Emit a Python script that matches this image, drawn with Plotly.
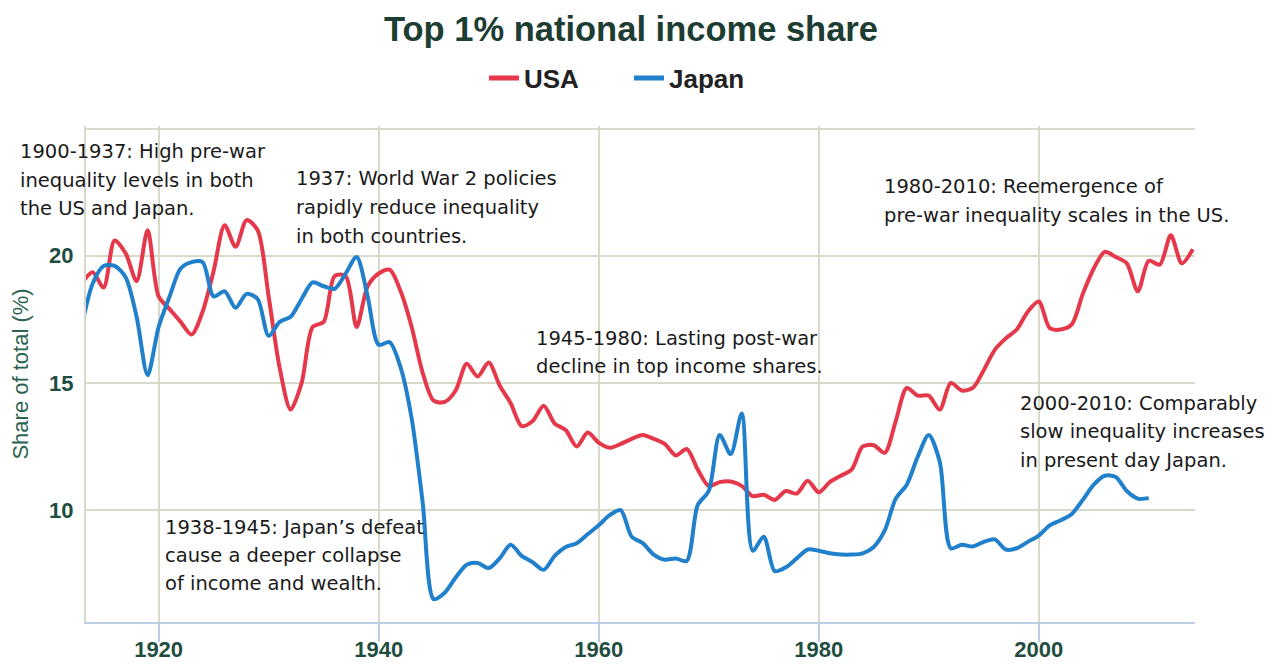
import plotly.graph_objects as go

years_usa = list(range(1913, 2015))
usa = [18.9, 19.35, 18.75, 20.6, 20.1, 19.0, 21.0, 18.4, 17.9, 17.4,
       16.9, 17.8, 19.4, 21.2, 20.35, 21.4, 21.0, 18.4, 15.6, 13.95,
       15.0, 17.2, 17.4, 19.2, 19.2, 17.2, 18.8, 19.3, 19.45, 18.6,
       17.2, 15.4, 14.3, 14.25, 14.7, 15.75, 15.25, 15.8, 14.9, 14.2,
       13.3, 13.5, 14.1, 13.4, 13.15, 12.5, 13.05, 12.65, 12.45, 12.6,
       12.8, 12.95, 12.8, 12.6, 12.15, 12.4, 11.6, 10.95, 11.1, 11.12,
       10.95, 10.55, 10.6, 10.4, 10.75, 10.65, 11.15, 10.7, 11.1, 11.35,
       11.6, 12.5, 12.55, 12.25, 13.5, 14.8, 14.5, 14.5, 13.95, 15.0,
       14.7, 14.8, 15.5, 16.3, 16.75, 17.1, 17.8, 18.2, 17.15, 17.1,
       17.3, 18.5, 19.5, 20.15, 19.95, 19.7, 18.6, 19.8, 19.65, 20.8,
       19.7, 20.25]

years_japan = list(range(1913, 2011))
japan = [17.2, 18.9, 19.6, 19.6, 19.15, 17.6, 15.3, 17.2, 18.4, 19.5,
         19.75, 19.75, 18.4, 18.6, 17.95, 18.5, 18.3, 16.85, 17.4, 17.6,
         18.3, 18.95, 18.8, 18.7, 19.3, 19.95, 18.4, 16.5, 16.6, 15.6,
         13.6, 10.3, 6.5, 6.75, 7.35, 7.85, 7.92, 7.72, 8.1, 8.64,
         8.2, 7.95, 7.65, 8.2, 8.55, 8.7, 9.05, 9.4, 9.8, 10.0,
         8.95, 8.7, 8.25, 8.05, 8.1, 8.0, 10.2, 10.75, 12.95, 12.2,
         13.8, 8.4, 8.95, 7.6, 7.75, 8.1, 8.45, 8.4, 8.3, 8.25,
         8.25, 8.3, 8.55, 9.2, 10.45, 11.0, 12.1, 12.95, 11.9, 8.5,
         8.64, 8.57, 8.75, 8.85, 8.45, 8.5, 8.75, 9.0, 9.4, 9.6,
         9.85, 10.4, 11.0, 11.35, 11.3, 10.75, 10.45, 10.47]

x_ticks = [1920, 1940, 1960, 1980, 2000]
y_ticks = [10, 15, 20, 25]
y_ticktext = ["10", "15", "20", ""]

notes = [
    (18, [152, 180, 208], ["1900-1937: High pre-war", "inequality levels in both", "the US and Japan."]),
    (294, [179, 207.5, 236], ["1937: World War 2 policies", "rapidly reduce inequality", "in both countries."]),
    (534, [338, 366], ["1945-1980: Lasting post-war", "decline in top income shares."]),
    (882, [187, 215.5], ["1980-2010: Reemergence of", "pre-war inequality scales in the US."]),
    (1018, [403, 431.5, 460], ["2000-2010: Comparably", "slow inequality increases", "in present day Japan."]),
    (163, [527, 555, 583], ["1938-1945: Japan\u2019s defeat", "cause a deeper collapse", "of income and wealth."]),
]

OFF = 8  # page body margin
W, H = 1271, 659
L, T = 86 - OFF, 126 - OFF
R = W - (1195 - OFF)
B = H - (622 - OFF)
PW, PH = W - L - R, H - T - B

RED = "#e5384b"
BLUE = "#2080cc"
GRID = "#d9d9c9"
AXBLUE = "#bccde6"
GREEN = "#1f4e40"

fig = go.Figure()
fig.add_trace(go.Scatter(x=years_usa, y=usa, name="USA", mode="lines",
                         line=dict(color=RED, width=4, shape="spline", smoothing=0.8)))
fig.add_trace(go.Scatter(x=years_japan, y=japan, name="Japan", mode="lines",
                         line=dict(color=BLUE, width=4, shape="spline", smoothing=0.8)))

for px, pys, lines in notes:
    for py, txt in zip(pys, lines):
        fig.add_annotation(x=(px - OFF - L) / PW, y=(H - B - (py - OFF)) / PH,
                           xref="paper", yref="paper",
                           text=txt, showarrow=False, xanchor="left", yanchor="middle",
                           font=dict(family="DejaVu Sans", size=19.5, color="#1a1a1a"))

fig.update_layout(
    width=W, height=H,
    margin=dict(l=L, r=R, t=T, b=B, autoexpand=False),
    paper_bgcolor="white", plot_bgcolor="white",
    title=dict(text="<b>Top 1% national income share</b>", x=(631 - OFF) / W, xanchor="center",
               xref="container", y=1 - 21 / H, yanchor="middle",
               font=dict(family="Liberation Sans", size=34.5, color="#1d3d33")),
    legend=dict(orientation="h", x=(484 - OFF) / W, xanchor="left", xref="container",
                y=1 - (78 - OFF) / H, yanchor="middle", yref="container",
                font=dict(family="Liberation Sans", size=26, color="#222222", weight="bold"),
                itemwidth=30, entrywidth=100, itemsizing="constant", traceorder="normal",
                bgcolor="rgba(0,0,0,0)"),
    showlegend=True,
    xaxis=dict(range=[1913.4, 2014.2], tickvals=x_ticks, showgrid=True, gridcolor=GRID, gridwidth=2,
               showline=True, linecolor=AXBLUE, linewidth=2, ticks="outside", ticklen=18,
               tickcolor=AXBLUE, tickwidth=2, zeroline=False, automargin=False,
               ticklabelstandoff=-11,
               tickfont=dict(family="Liberation Sans", size=22, color=GREEN, weight="bold")),
    yaxis=dict(range=[5.6, 25.1], tickvals=y_ticks, ticktext=y_ticktext, showgrid=True,
               gridcolor=GRID, gridwidth=2, showline=True, linecolor=GRID, linewidth=2,
               zeroline=False, ticks="", ticklabelstandoff=6, automargin=False,
               tickfont=dict(family="Liberation Sans", size=22, color=GREEN, weight="bold"),
               title=dict(text="Share of total (%)", standoff=18,
                          font=dict(family="Liberation Sans", size=22, color="#2b6450"))),
)

fig.write_html("out.html")
